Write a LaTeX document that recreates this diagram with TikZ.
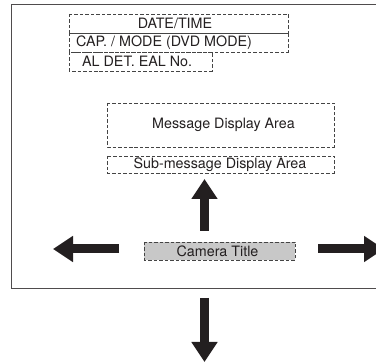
\documentclass[tikz,border=0pt]{standalone}
\usepackage{fontspec}
\setmainfont{TeX Gyre Heros}
\usetikzlibrary{arrows.meta}
\definecolor{ink}{HTML}{231F20}
\definecolor{dashgray}{HTML}{444444}
\definecolor{titlefill}{HTML}{C8C8C8}
\begin{document}
\begin{tikzpicture}[x=1pt,y=-1pt,
  dbox/.style={draw=dashgray,line width=0.9pt,dash pattern=on 3.5pt off 2pt},
  lbl/.style={font=\fontsize{14.3}{16}\selectfont,text=ink,inner sep=0pt},
  bigarrow/.style={draw=ink,line width=9pt,-{Triangle[length=20pt,width=25pt]}}]
\clip (0,0) rectangle (376,363);
\useasboundingbox (0,0) rectangle (376,363);
% frame
\draw[draw=ink!80,line width=1pt] (11,5) rectangle (390,289);
% top boxes
\draw[dbox] (69,14) rectangle (288,33);
\draw[dbox] (69,33) rectangle (288,52);
\draw[dbox] (69,52) rectangle (212,71);
\node[lbl] (dt) at (175,23.5) {DATE/TIME};
\node[lbl,anchor=west] (cap) at (76,42.5) {CAP. / MODE (DVD MODE)};
\node[lbl,anchor=west] (al) at (82,61.5) {AL DET. EAL No.};
% message areas
\draw[dbox] (107,103) rectangle (334,147);
\node[lbl] (msg) at (223.5,125) {Message Display Area};
\draw[dbox] (107,156) rectangle (334,173);
\node[lbl] (sub) at (220,164.5) {Sub-message Display Area};
% camera title
\draw[dbox,fill=titlefill] (144,242) rectangle (295,260);
\node[lbl] (cam) at (217.5,251) {Camera Title};
% arrows
\coordinate (upS) at (204.5,231);
\coordinate (upE) at (204.5,179);
\coordinate (dnS) at (204.5,298);
\coordinate (dnE) at (204.5,362);
\coordinate (lfS) at (119,249);
\coordinate (lfE) at (53,249);
\coordinate (rtS) at (318,249);
\coordinate (rtE) at (384,249);
\draw[bigarrow] (upS) -- (upE);
\draw[bigarrow] (dnS) -- (dnE);
\draw[bigarrow] (lfS) -- (lfE);
\draw[bigarrow] (rtS) -- (rtE);
\end{tikzpicture}
\end{document}
